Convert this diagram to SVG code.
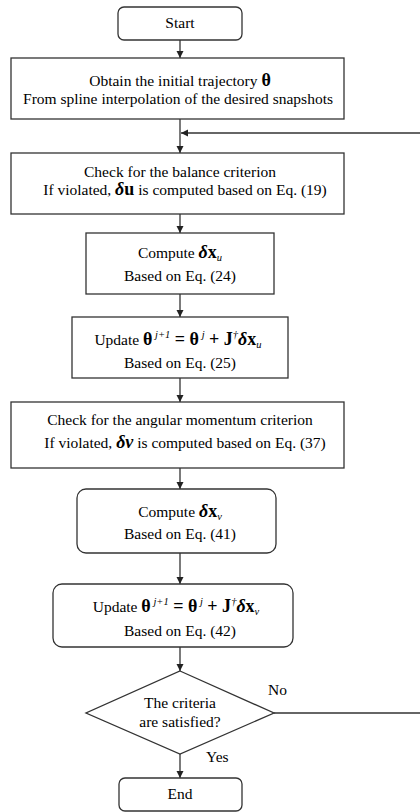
<svg xmlns="http://www.w3.org/2000/svg" width="420" height="812" viewBox="0 0 420 812">
<defs>
<marker id="ah" viewBox="0 0 10 10" refX="10" refY="5" markerWidth="7" markerHeight="8" markerUnits="userSpaceOnUse" orient="auto">
<path d="M0,0 L10,5 L0,10 z" fill="#222"/>
</marker>
<style>
.box{fill:#fff;stroke:#333;stroke-width:1.3}
.ln{fill:none;stroke:#333;stroke-width:1.3}
.t{font-family:"Liberation Serif","Times New Roman",serif;font-size:15.5px;fill:#000;text-anchor:middle}
.l{font-family:"Liberation Serif","Times New Roman",serif;font-size:15.5px;fill:#000}
.m{font-weight:bold;font-size:18px}
.d{font-style:italic;font-weight:bold;font-size:18px}
.s{font-style:italic;font-size:10.5px}
</style>
</defs>
<rect width="420" height="812" fill="#fff"/>
<g id="connectors">
<line class="ln" x1="180" y1="40" x2="180" y2="58" marker-end="url(#ah)"/>
<line class="ln" x1="180" y1="119" x2="180" y2="153" marker-end="url(#ah)"/>
<line class="ln" x1="420" y1="133" x2="181" y2="133" marker-end="url(#ah)"/>
<line class="ln" x1="180" y1="214" x2="180" y2="233" marker-end="url(#ah)"/>
<line class="ln" x1="180" y1="294" x2="180" y2="317" marker-end="url(#ah)"/>
<line class="ln" x1="180" y1="378" x2="180" y2="402" marker-end="url(#ah)"/>
<line class="ln" x1="180" y1="468" x2="180" y2="489" marker-end="url(#ah)"/>
<line class="ln" x1="180" y1="553" x2="180" y2="584" marker-end="url(#ah)"/>
<line class="ln" x1="180" y1="647" x2="180" y2="671" marker-end="url(#ah)"/>
<line class="ln" x1="180" y1="754" x2="180" y2="778" marker-end="url(#ah)"/>
<line class="ln" x1="274" y1="713" x2="420" y2="713"/>
<text class="l" x="268" y="695">No</text>
<text class="l" x="206" y="762">Yes</text>
</g>
<g id="start">
<rect class="box" x="118" y="7" width="124" height="33" rx="6"/>
<text class="t" x="180" y="28">Start</text>
</g>
<g id="init">
<rect class="box" x="11" y="58" width="333" height="61"/>
<text class="t" x="180" y="86">Obtain the initial trajectory <tspan class="m">θ</tspan></text>
<text class="t" x="178" y="104">From spline interpolation of the desired snapshots</text>
</g>
<g id="balance">
<rect class="box" x="11" y="153" width="333" height="61"/>
<text class="t" x="180" y="177">Check for the balance criterion</text>
<text class="t" x="185" y="195">If violated, <tspan class="d">δ</tspan><tspan class="m">u</tspan> is computed based on Eq. (19)</text>
</g>
<g id="computeu">
<rect class="box" x="86" y="233" width="188" height="61"/>
<text class="t" x="180" y="258">Compute <tspan class="d">δ</tspan><tspan class="m">x</tspan><tspan class="s" dy="3">u</tspan></text>
<text class="t" x="180" y="281">Based on Eq. (24)</text>
</g>
<g id="updateu">
<rect class="box" x="72" y="317" width="216" height="61"/>
<text class="t" x="178" y="345">Update <tspan class="m">θ</tspan><tspan class="s" dy="-7"> j+1</tspan><tspan class="m" dy="7"> = θ</tspan><tspan class="s" dy="-7"> j</tspan><tspan class="m" dy="7"> + J</tspan><tspan class="s" dy="-7">†</tspan><tspan class="d" dy="7">δ</tspan><tspan class="m">x</tspan><tspan class="s" dy="3">u</tspan></text>
<text class="t" x="180" y="368">Based on Eq. (25)</text>
</g>
<g id="angular">
<rect class="box" x="11" y="402" width="333" height="66"/>
<text class="t" x="180" y="425">Check for the angular momentum criterion</text>
<text class="t" x="185" y="448">If violated, <tspan class="d">δv</tspan> is computed based on Eq. (37)</text>
</g>
<g id="computev">
<rect class="box" x="77" y="489" width="199" height="64" rx="9"/>
<text class="t" x="180" y="517">Compute <tspan class="d">δ</tspan><tspan class="m">x</tspan><tspan class="s" dy="3">v</tspan></text>
<text class="t" x="180" y="539">Based on Eq. (41)</text>
</g>
<g id="updatev">
<rect class="box" x="53" y="584" width="240" height="63" rx="9"/>
<text class="t" x="176" y="612">Update <tspan class="m">θ</tspan><tspan class="s" dy="-7"> j+1</tspan><tspan class="m" dy="7"> = θ</tspan><tspan class="s" dy="-7"> j</tspan><tspan class="m" dy="7"> + J</tspan><tspan class="s" dy="-7">†</tspan><tspan class="d" dy="7">δ</tspan><tspan class="m">x</tspan><tspan class="s" dy="3">v</tspan></text>
<text class="t" x="180" y="636">Based on Eq. (42)</text>
</g>
<g id="decision">
<polygon class="box" points="180,671 274,713 180,754 86,713"/>
<text class="t" x="180" y="708">The criteria</text>
<text class="t" x="180" y="727">are satisfied?</text>
</g>
<g id="end">
<rect class="box" x="119" y="778" width="123" height="33" rx="6"/>
<text class="t" x="180" y="799">End</text>
</g>
</svg>
